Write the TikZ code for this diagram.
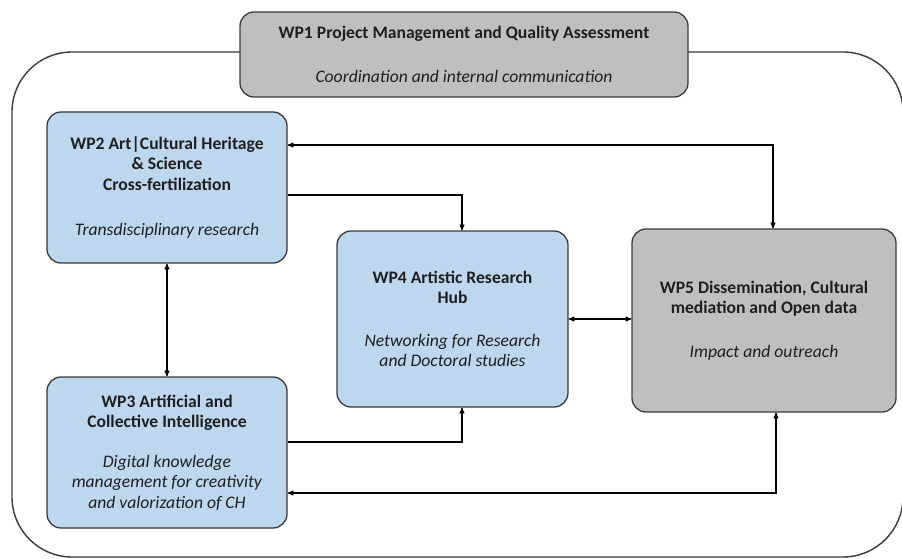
\documentclass[tikz,border=0pt]{standalone}
\usepackage{fontspec}
\setmainfont{Carlito}
\usetikzlibrary{arrows}

\definecolor{wpfillblue}{HTML}{BDD7EE}
\definecolor{wpfillgrey}{HTML}{BFBFBF}
\definecolor{wpline}{HTML}{3A3A3A}

\begin{document}
\begin{tikzpicture}[x=1pt,y=-1pt,>=stealth',line width=1.1pt,
  wpbox/.style={draw=wpline,line width=1.3pt,rounded corners=14pt,align=center,
    text=black!88,inner sep=2pt,font=\fontsize{17.6}{20.5}\selectfont},
  wpblue/.style={wpbox,fill=wpfillblue},
  wpgrey/.style={wpbox,fill=wpfillgrey}]
  \useasboundingbox (0,0) rectangle (902,559);
  % consortium frame behind the work packages
  \draw[wpline,line width=1.4pt,rounded corners=60pt] (12,52) rectangle (903,557);

  \node[wpgrey,minimum width=448pt,minimum height=85pt] (wp1) at (464,54.5)
    {\textbf{WP1 Project Management and Quality Assessment}\\[23pt]
     \textit{Coordination and internal communication}};
  \node[wpblue,minimum width=240pt,minimum height=151pt] (wp2) at (167,187.5)
    {\textbf{WP2 Art|Cultural Heritage}\\ \textbf{\& Science}\\ \textbf{Cross-fertilization}\\[25pt]
     \textit{Transdisciplinary research}};
  \node[wpblue,minimum width=240pt,minimum height=151pt] (wp3) at (167,452.5)
    {\textbf{WP3 Artificial and}\\ \textbf{Collective Intelligence}\\[19pt]
     \textit{Digital knowledge}\\ \textit{management for creativity}\\ \textit{and valorization of CH}};
  \node[wpblue,minimum width=231pt,minimum height=176pt] (wp4) at (452.5,319)
    {\textbf{WP4 Artistic Research}\\ \textbf{Hub}\\[22pt]
     \textit{Networking for Research}\\ \textit{and Doctoral studies}};
  \node[wpgrey,minimum width=264pt,minimum height=183pt] (wp5) at (764,320.5)
    {\textbf{WP5 Dissemination, Cultural}\\ \textbf{mediation and Open data}\\[23pt]
     \textit{Impact and outreach}};

  \draw[<->] ([yshift=42.5pt]wp2.east) -| ([xshift=9pt]wp5.north);
  \draw[->]  ([yshift=-7.5pt]wp2.east) -| ([xshift=9.5pt]wp4.north);
  \draw[->]  ([yshift=10.5pt]wp3.east) -| ([xshift=9.5pt]wp4.south);
  \draw[<->] ([yshift=-40.5pt]wp3.east) -| ([xshift=12pt]wp5.south);
  \path[<->] (wp2) edge (wp3);
  \path[<->] (wp4.east) edge (wp4.east -| wp5.west);
\end{tikzpicture}
\end{document}
